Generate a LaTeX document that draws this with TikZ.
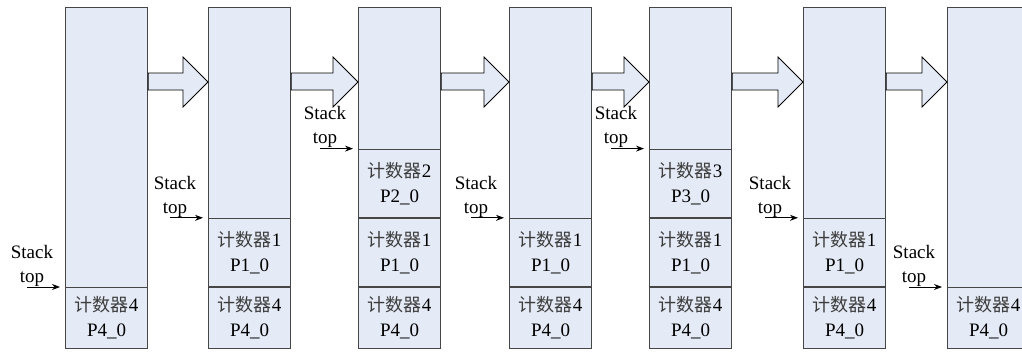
\documentclass[tikz,border=0pt]{standalone}
\usepackage{fontspec}
\setmainfont{Liberation Serif}
\newfontfamily\latinserif{Liberation Serif}
\newfontfamily\cjk{Noto Sans CJK SC}
\usetikzlibrary{arrows.meta,calc}

\definecolor{stackfill}{RGB}{229,235,246}
\definecolor{stackline}{RGB}{70,70,70}
\definecolor{cjkgray}{RGB}{60,60,60}

\tikzset{
  stackcol/.style={draw=stackline, fill=stackfill, line width=1.2pt,
    minimum width=82pt, minimum height=341pt, inner sep=0pt, anchor=north west},
  cellbox/.style={draw=stackline, fill=stackfill, line width=1.2pt,
    minimum width=82pt, inner sep=0pt, anchor=south west, align=center,
    font=\latinserif\fontsize{19}{25}\selectfont},
  lowcell/.style={cellbox, minimum height=61pt},
  upcell/.style={cellbox, minimum height=68pt},
  flowarrowstyle/.style={draw=black, fill=stackfill, line width=0.8pt, line join=miter},
  ptr/.style={draw=black, line width=0.9pt, -{Stealth[length=8pt,width=6pt]}},
  toplabel/.style={anchor=south, inner sep=0pt, align=center,
    font=\latinserif\fontsize{19}{24}\selectfont},
}

% wide hollow arrow between two stack columns
\newcommand\flowarrow[2]{%
  \path[flowarrowstyle] let \p1=(#1.north east), \p2=(#2.north west) in
    (\x1,\y1-66pt) -- (\x2-25pt,\y1-66pt) -- (\x2-25pt,\y1-50pt) --
    (\x2,\y1-75pt) -- (\x2-25pt,\y1-100pt) -- (\x2-25pt,\y1-83pt) --
    (\x1,\y1-83pt) -- cycle;}

% "Stack top" pointer aimed at the top edge of a cell
\newcommand\stacktop[2]{%
  \coordinate (#1) at ([xshift=-38pt]#2.north west);
  \coordinate (#1e) at ([xshift=-5pt]#2.north west);
  \draw[ptr] (#1) -- (#1e);
  \node[toplabel] (#1l) at ([xshift=5pt,yshift=0.5pt]#1) {Stack\\top};}

\newcommand\ctr[1]{{\cjk\color{cjkgray}\fontsize{18}{25}\selectfont 计数器}#1}

\begin{document}
\begin{tikzpicture}[x=1pt,y=-1pt]
\useasboundingbox (0,0) rectangle (1022,356);
\clip (0,0) rectangle (1022,356);

% columns
\node[stackcol] (c1) at (65,7) {};
\node[stackcol] (c2) at (208,7) {};
\node[stackcol] (c3) at (358,7) {};
\node[stackcol] (c4) at (509,7) {};
\node[stackcol] (c5) at (649,7) {};
\node[stackcol] (c6) at (803,7) {};
\node[stackcol] (c7) at (947,7) {};

% stack contents
\node[lowcell] (c1a) at (c1.south west) {\ctr{4}\\P4\_0};

\node[lowcell] (c2a) at (c2.south west) {\ctr{4}\\P4\_0};
\node[upcell]  (c2b) at (c2a.north west) {\ctr{1}\\P1\_0};

\node[lowcell] (c3a) at (c3.south west) {\ctr{4}\\P4\_0};
\node[upcell]  (c3b) at (c3a.north west) {\ctr{1}\\P1\_0};
\node[upcell]  (c3c) at (c3b.north west) {\ctr{2}\\P2\_0};

\node[lowcell] (c4a) at (c4.south west) {\ctr{4}\\P4\_0};
\node[upcell]  (c4b) at (c4a.north west) {\ctr{1}\\P1\_0};

\node[lowcell] (c5a) at (c5.south west) {\ctr{4}\\P4\_0};
\node[upcell]  (c5b) at (c5a.north west) {\ctr{1}\\P1\_0};
\node[upcell]  (c5c) at (c5b.north west) {\ctr{3}\\P3\_0};

\node[lowcell] (c6a) at (c6.south west) {\ctr{4}\\P4\_0};
\node[upcell]  (c6b) at (c6a.north west) {\ctr{1}\\P1\_0};

\node[lowcell] (c7a) at (c7.south west) {\ctr{4}\\P4\_0};

% transitions
\flowarrow{c1}{c2}
\flowarrow{c2}{c3}
\flowarrow{c3}{c4}
\flowarrow{c4}{c5}
\flowarrow{c5}{c6}
\flowarrow{c6}{c7}

% stack top pointers
\stacktop{s1}{c1a}
\stacktop{s2}{c2b}
\stacktop{s3}{c3c}
\stacktop{s4}{c4b}
\stacktop{s5}{c5c}
\stacktop{s6}{c6b}
\stacktop{s7}{c7a}
\end{tikzpicture}
\end{document}
